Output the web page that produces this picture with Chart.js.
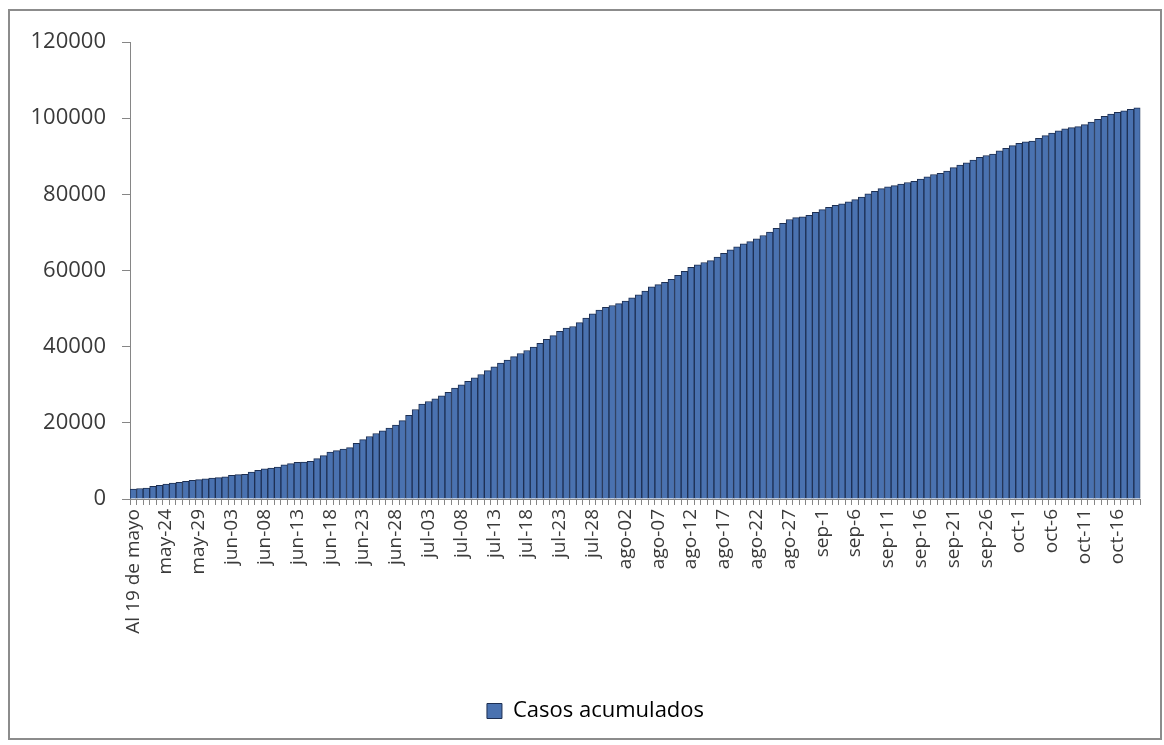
<!DOCTYPE html>
<html>
<head>
<meta charset="utf-8">
<script src="https://cdn.jsdelivr.net/npm/chart.js@4"></script>
<style>
  html, body { margin: 0; padding: 0; background: #ffffff; }
  #wrap { position: relative; width: 1164px; height: 745px; }
  #frame { position: absolute; left: 8px; top: 9px; width: 1150px; height: 727px; border: 2px solid #8c8c8c; box-sizing: content-box; pointer-events: none; }
  canvas { position: absolute; left: 0; top: 0; }
</style>
</head>
<body>
<div id="wrap">
  <canvas id="c" width="1164" height="745"></canvas>
  <div id="frame"></div>
</div>
<script>
// Categories (one per day)
const daysMay = ["Al 19 de mayo","may-20","may-21","may-22","may-23","may-24","may-25","may-26","may-27","may-28","may-29","may-30","may-31"];
const daysJun = ["jun-01","jun-02","jun-03","jun-04","jun-05","jun-06","jun-07","jun-08","jun-09","jun-10","jun-11","jun-12","jun-13","jun-14","jun-15","jun-16","jun-17","jun-18","jun-19","jun-20","jun-21","jun-22","jun-23","jun-24","jun-25","jun-26","jun-27","jun-28","jun-29","jun-30"];
const daysJul = ["jul-01","jul-02","jul-03","jul-04","jul-05","jul-06","jul-07","jul-08","jul-09","jul-10","jul-11","jul-12","jul-13","jul-14","jul-15","jul-16","jul-17","jul-18","jul-19","jul-20","jul-21","jul-22","jul-23","jul-24","jul-25","jul-26","jul-27","jul-28","jul-29","jul-30","jul-31"];
const daysAgo = ["ago-01","ago-02","ago-03","ago-04","ago-05","ago-06","ago-07","ago-08","ago-09","ago-10","ago-11","ago-12","ago-13","ago-14","ago-15","ago-16","ago-17","ago-18","ago-19","ago-20","ago-21","ago-22","ago-23","ago-24","ago-25","ago-26","ago-27","ago-28","ago-29","ago-30","ago-31"];
const daysSep = ["sep-1","sep-2","sep-3","sep-4","sep-5","sep-6","sep-7","sep-8","sep-9","sep-10","sep-11","sep-12","sep-13","sep-14","sep-15","sep-16","sep-17","sep-18","sep-19","sep-20","sep-21","sep-22","sep-23","sep-24","sep-25","sep-26","sep-27","sep-28","sep-29","sep-30"];
const daysOct = ["oct-1","oct-2","oct-3","oct-4","oct-5","oct-6","oct-7","oct-8","oct-9","oct-10","oct-11","oct-12","oct-13","oct-14","oct-15","oct-16","oct-17","oct-18","oct-19"];
const categories = [].concat(daysMay, daysJun, daysJul, daysAgo, daysSep, daysOct);

// Series: Casos acumulados
const casosAcumulados = [
  2600, 2750, 2900, 3300, 3600, 3900, 4150, 4400, 4650, 4900,
  5100, 5300, 5500, 5600, 5800, 6200, 6400, 6500, 7100, 7500,
  7900, 8100, 8400, 9000, 9300, 9600, 9700, 9900, 10600, 11400,
  12300, 12700, 13100, 13500, 14600, 15600, 16400, 17200, 17900, 18600,
  19400, 20600, 22000, 23500, 24900, 25600, 26300, 27100, 28000, 29100,
  30000, 30900, 31800, 32700, 33700, 34700, 35700, 36500, 37400, 38200,
  39000, 39900, 40900, 41900, 42900, 44000, 44900, 45300, 46300, 47500,
  48600, 49600, 50300, 50800, 51300, 52000, 52800, 53600, 54600, 55700,
  56300, 56900, 57700, 58700, 59800, 60800, 61500, 62100, 62600, 63500,
  64500, 65400, 66200, 67000, 67600, 68300, 69200, 70100, 71100, 72400,
  73400, 73900, 74100, 74500, 75300, 76000, 76600, 77100, 77500, 78000,
  78600, 79300, 80100, 80800, 81500, 82000, 82300, 82700, 83100, 83400,
  84000, 84600, 85200, 85500, 86100, 87000, 87700, 88300, 89000, 89700,
  90200, 90600, 91400, 92100, 92800, 93400, 93800, 94000, 94700, 95400,
  96100, 96700, 97200, 97500, 97800, 98300, 99000, 99700, 100500, 101100,
  101500, 101900, 102300, 102700
];

// Axis settings
const yTicks = [0, 20000, 40000, 60000, 80000, 100000, 120000];
const labelEvery = 5;
const seriesName = "Casos acumulados";

const axisGray = '#868686';
const textGray = '#3a3a3a';

const legendShift = {
  id: 'legendShift',
  afterLayout(chart) {
    const l = chart.legend;
    if (l) { l.left += 18; l.right += 18; }
  }
};

new Chart(document.getElementById('c'), {
  type: 'bar',
  data: {
    labels: categories,
    datasets: [{
      label: seriesName,
      data: casosAcumulados,
      backgroundColor: '#4a72b0',
      borderColor: '#1d2f52',
      borderWidth: 1,
      barPercentage: 1.0,
      categoryPercentage: 1.0
    }]
  },
  plugins: [legendShift],
  options: {
    responsive: false,
    devicePixelRatio: 1,
    animation: false,
    layout: { padding: { left: 10, right: 19, top: 42, bottom: 13 } },
    plugins: {
      tooltip: { enabled: false },
      legend: {
        position: 'bottom',
        labels: {
          color: textGray,
          font: { family: 'Open Sans', size: 22 },
          boxWidth: 15,
          boxHeight: 15,
          padding: 10,
          generateLabels: (chart) => [{
            text: seriesName,
            fillStyle: '#4a72b0',
            strokeStyle: '#1d2f52',
            lineWidth: 1,
            datasetIndex: 0
          }]
        }
      }
    },
    scales: {
      x: {
        offset: true,
        grid: { display: true, drawOnChartArea: false, drawTicks: true, tickLength: 6, color: axisGray, offset: true },
        border: { display: true, color: axisGray, width: 1 },
        ticks: {
          autoSkip: false,
          maxRotation: 90,
          minRotation: 90,
          padding: 4,
          color: textGray,
          font: { family: 'Open Sans', size: 19 },
          callback: function(val, idx) { return idx % labelEvery === 0 ? categories[idx] : ''; }
        },
        afterFit: (scale) => { scale.height = 191; }
      },
      y: {
        min: 0,
        max: 120000,
        afterBuildTicks: (scale) => { scale.ticks = yTicks.map(v => ({ value: v })); },
        grid: { display: true, drawOnChartArea: false, drawTicks: true, tickLength: 8, color: axisGray },
        border: { display: true, color: axisGray, width: 1 },
        ticks: {
          padding: 16,
          color: textGray,
          font: { family: 'Open Sans', size: 22 },
          callback: (v) => String(v)
        },
        afterFit: (scale) => { scale.width = 120; }
      }
    }
  }
});
</script>
</body>
</html>
